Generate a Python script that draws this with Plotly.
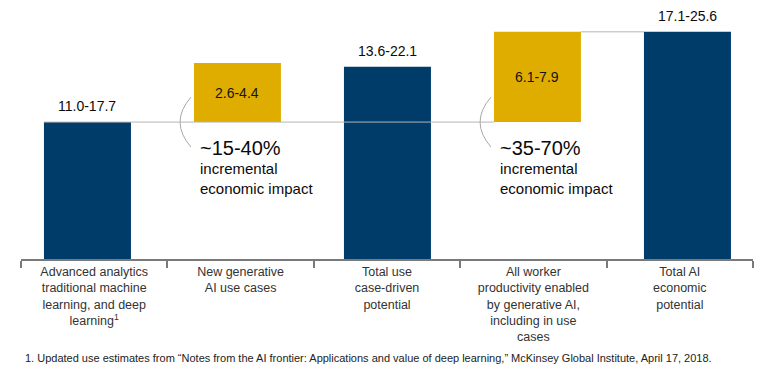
import plotly.graph_objects as go

categories = [
    "Advanced analytics<br>traditional machine<br>learning, and deep<br>learning<sup>1</sup>",
    "New generative<br>AI use cases",
    "Total use<br>case-driven<br>potential",
    "All worker<br>productivity enabled<br>by generative AI,<br>including in use<br>cases",
    "Total AI<br>economic<br>potential",
]
keys = ["c1", "c2", "c3", "c4", "c5"]
# visual bar extents (stylised scale)
bar_base = [0, 11.0, 0, 11.0, 0]
bar_top = [11.0, 15.75, 15.45, 18.25, 18.25]
value_labels = ["11.0-17.7", "2.6-4.4", "13.6-22.1", "6.1-7.9", "17.1-25.6"]
bar_kind = ["total", "incr", "total", "incr", "total"]
impact_pct = ["~15-40%", "~35-70%"]
impact_text = "incremental<br>economic impact"
footnote = ("1. Updated use estimates from \u201cNotes from the AI frontier: Applications and value of "
            "deep learning,\u201d McKinsey Global Institute, April 17, 2018.")

NAVY = "#003C6A"
GOLD = "#DFAD00"
FONT = "Liberation Sans, Arial, sans-serif"

fig = go.Figure()
# invisible trace to carry the category axis with labels
fig.add_trace(go.Scatter(x=keys, y=[0] * 5, mode="lines", line=dict(width=0),
                         opacity=0, hoverinfo="skip", showlegend=False))

colors = [NAVY if k == "total" else GOLD for k in bar_kind]
heights = [t - b for t, b in zip(bar_top, bar_base)]
fig.add_trace(go.Bar(
    x=keys, y=heights, base=bar_base, marker=dict(color=colors, line=dict(width=0)),
    width=0.58, xaxis="x2", yaxis="y", showlegend=False, hoverinfo="skip",
))

# value labels: above totals, centred inside increments
for i, (k, v) in enumerate(zip(bar_kind, value_labels)):
    if k == "total":
        fig.add_annotation(x=i, y=bar_top[i], xref="x2", yref="y", text=v, showarrow=False,
                           yanchor="bottom", yshift=6,
                           font=dict(family=FONT, size=14, color="#0a0a0a"))
    else:
        fig.add_annotation(x=i, y=(bar_top[i] + bar_base[i]) / 2, xref="x2", yref="y", text=v,
                           showarrow=False, yanchor="middle",
                           font=dict(family=FONT, size=14, color="#141414"))

# connectors
fig.add_shape(type="line", xref="x2", yref="y", x0=0 - 0.29, x1=3 - 0.29,
              y0=bar_top[0], y1=bar_top[0], line=dict(color="#b5b5b5", width=1), layer="above")
fig.add_shape(type="line", xref="x2", yref="y", x0=3 + 0.29, x1=4 - 0.29,
              y0=bar_top[3], y1=bar_top[3], line=dict(color="#b5b5b5", width=1), layer="above")

# brackets + impact text
for j, i in enumerate([1, 3]):
    ye = bar_base[i]
    x_end = i - 0.31
    x_ctl = i - 0.455
    fig.add_shape(type="path", xref="x2", yref="y",
                  path=f"M {x_end},{ye + 2.0} Q {x_ctl},{ye} {x_end},{ye - 2.0}",
                  line=dict(color="#a8a8a8", width=1))
    fig.add_annotation(x=i - 0.265, y=ye - 2.1, xref="x2", yref="y", text=impact_pct[j],
                       showarrow=False, xanchor="left", yanchor="middle",
                       font=dict(family=FONT, size=20, color="#0a0a0a"))
    fig.add_annotation(x=i - 0.265, y=ye - 4.5, xref="x2", yref="y", text=impact_text,
                       showarrow=False, xanchor="left", yanchor="middle", align="left",
                       font=dict(family=FONT, size=15, color="#0a0a0a"))

fig.add_annotation(x=0.003, y=-0.414, xref="paper", yref="paper", text=footnote, showarrow=False,
                   xanchor="left", yanchor="middle", font=dict(family=FONT, size=11, color="#222"))

fig.update_layout(
    width=762, height=368, margin=dict(l=13, r=17, t=12, b=117),
    paper_bgcolor="white", plot_bgcolor="white", showlegend=False,
    font=dict(family=FONT),
    xaxis=dict(type="category", categoryarray=keys, tickvals=keys, ticktext=categories,
               range=[-0.5, 4.5], tickson="boundaries", ticks="outside", ticklen=7,
               tickwidth=2, tickcolor="#7a7a7a", showline=True, linecolor="#7a7a7a",
               linewidth=2, showgrid=False, zeroline=False,
               tickfont=dict(family=FONT, size=12.5, color="#333")),
    xaxis2=dict(type="category", categoryarray=keys, overlaying="x", range=[-0.443, 4.437],
                visible=False, showgrid=False, zeroline=False),
    yaxis=dict(range=[0, 19.2], visible=False, showgrid=False, zeroline=False),
)

fig.write_html("out.html")
